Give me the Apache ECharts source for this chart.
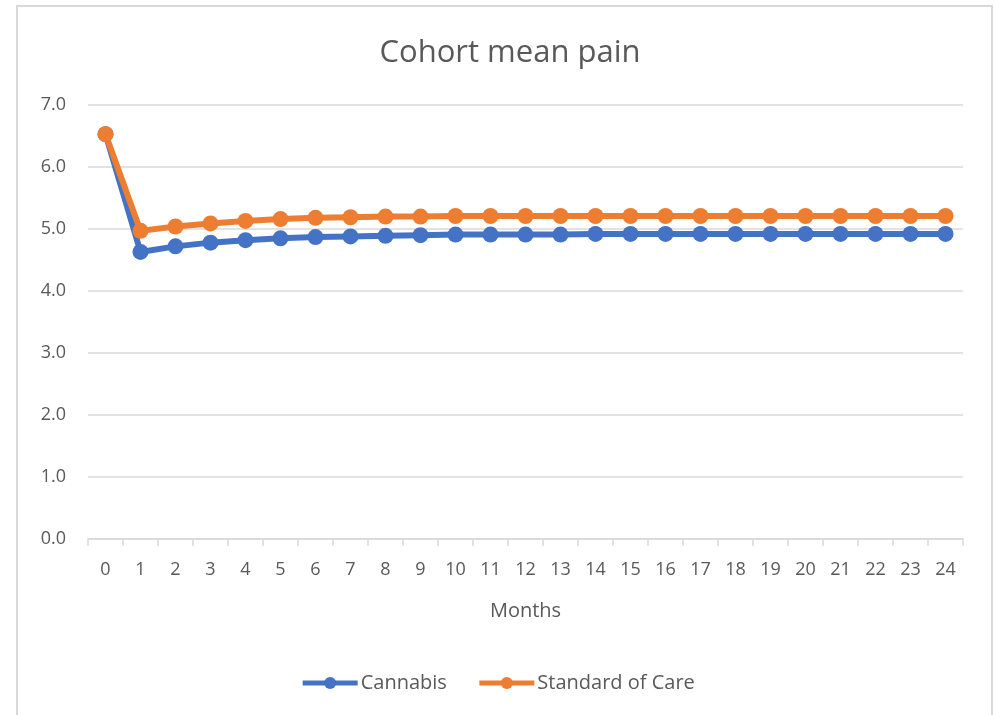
<!DOCTYPE html>
<html>
<head>
<meta charset="utf-8">
<script src="https://cdn.jsdelivr.net/npm/echarts@6/dist/echarts.min.js"></script>
<style>
html,body{margin:0;padding:0;background:#fff;}
#chart{width:995px;height:715px;}
</style>
</head>
<body>
<div id="chart"></div>
<script>
const months = ['0','1','2','3','4','5','6','7','8','9','10','11','12','13','14','15','16','17','18','19','20','21','22','23','24'];
const cannabis = [6.53, 4.63, 4.72, 4.78, 4.82, 4.85, 4.87, 4.88, 4.89, 4.90, 4.91, 4.91, 4.91, 4.91, 4.92, 4.92, 4.92, 4.92, 4.92, 4.92, 4.92, 4.92, 4.92, 4.92, 4.92];
const standardOfCare = [6.53, 4.97, 5.04, 5.09, 5.13, 5.16, 5.18, 5.19, 5.20, 5.20, 5.21, 5.21, 5.21, 5.21, 5.21, 5.21, 5.21, 5.21, 5.21, 5.21, 5.21, 5.21, 5.21, 5.21, 5.21];

const FONT = '"Open Sans", "Noto Sans", sans-serif';
const TXT = '#595959';
const chart = echarts.init(document.getElementById('chart'), null, {renderer: 'canvas'});
chart.setOption({
  backgroundColor: '#fff',
  animation: false,
  graphic: [{
    type: 'rect', silent: true, z: -10,
    shape: {x: 17, y: 6, width: 975, height: 720},
    style: {fill: '#fff', stroke: '#D9D9D9', lineWidth: 2}
  }],
  title: {
    text: 'Cohort mean pain', left: 505, top: 33, textAlign: 'center',
    textStyle: {fontFamily: FONT, fontSize: 31, fontWeight: 'normal', color: TXT}
  },
  legend: {
    bottom: 17, left: 'center',
    itemWidth: 55, itemHeight: 15, itemGap: 30,
    lineStyle: {width: 5},
    textStyle: {fontFamily: FONT, fontSize: 20, color: TXT, padding: [0, 0, 0, -2]},
    data: ['Cannabis', 'Standard of Care']
  },
  grid: {left: 88, right: 32, top: 105, bottom: 176, containLabel: false},
  xAxis: {
    type: 'category', data: months, boundaryGap: true,
    name: 'Months', nameLocation: 'middle', nameGap: 62,
    nameTextStyle: {fontFamily: FONT, fontSize: 20, color: TXT},
    axisLine: {lineStyle: {color: '#D9D9D9', width: 1.5}},
    axisTick: {show: true, length: 7, lineStyle: {color: '#D9D9D9', width: 1.5}},
    axisLabel: {fontFamily: FONT, fontSize: 18, color: TXT, margin: 22, interval: 0}
  },
  yAxis: {
    type: 'value', min: 0, max: 7, interval: 1,
    axisLine: {show: false}, axisTick: {show: false},
    axisLabel: {fontFamily: FONT, fontSize: 18, color: TXT, margin: 22, formatter: v => v.toFixed(1)},
    splitLine: {lineStyle: {color: '#D9D9D9', width: 1.5}}
  },
  series: [
    {name: 'Cannabis', type: 'line', data: cannabis, symbol: 'circle', symbolSize: 16,
     lineStyle: {width: 6, color: '#4472C4'}, itemStyle: {color: '#4472C4'}},
    {name: 'Standard of Care', type: 'line', data: standardOfCare, symbol: 'circle', symbolSize: 16,
     lineStyle: {width: 6, color: '#ED7D31'}, itemStyle: {color: '#ED7D31'}}
  ]
});
</script>
</body>
</html>
